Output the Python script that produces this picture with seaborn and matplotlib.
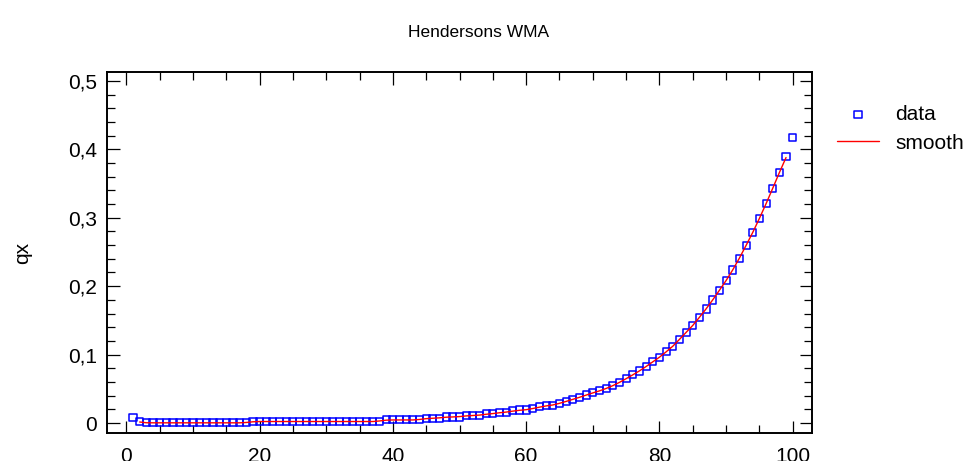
import numpy as np
import pandas as pd
import matplotlib
matplotlib.use("Agg")
import matplotlib.pyplot as plt
from matplotlib.ticker import MultipleLocator, FuncFormatter
import seaborn as sns

# observed qx by age 1..100
ages = list(range(1, 101))
qx_data = ([0.0083, 0.0025] + [0.0003] * 16 + [0.0022] * 20 + [0.0045] * 6
           + [0.0068] * 3 + [0.0088] * 3 + [0.0110] * 3 + [0.0135] * 2
           + [0.0152] * 2 + [0.0178] + [0.0190] * 2 + [0.0214, 0.0236]
           + [0.0253] * 2
           + [0.0287, 0.0312, 0.0350, 0.0375, 0.0410, 0.0448, 0.0470, 0.0502,
              0.0542, 0.0594, 0.0650, 0.0710, 0.0760, 0.0823, 0.0896, 0.0961,
              0.1042, 0.1115, 0.1224, 0.1326, 0.1423, 0.1545, 0.1667, 0.1798,
              0.1940, 0.2080, 0.2237, 0.2410, 0.2600, 0.2780, 0.2990, 0.3210,
              0.3430, 0.3660, 0.3900, 0.4170])

# Henderson smoothed values, ages 2..99
smooth_ages = list(range(2, 100))
qx_smooth = ([0.0015, 0.0004] + [0.0003] * 14 + [0.0008, 0.0018]
             + [0.0022] * 18 + [0.0030, 0.0042] + [0.0045] * 4
             + [0.0052, 0.0064, 0.0070, 0.0076, 0.0085, 0.0089, 0.0094,
                0.0104, 0.0110, 0.0116, 0.0128, 0.0138, 0.0150, 0.0160,
                0.0174, 0.0186, 0.0195, 0.0212, 0.0232, 0.0250, 0.0264,
                0.0288, 0.0316, 0.0346, 0.0376, 0.0408, 0.0440, 0.0470,
                0.0505, 0.0546, 0.0594, 0.0648, 0.0704, 0.0762, 0.0826,
                0.0894, 0.0962, 0.1040, 0.1122, 0.1222, 0.1324, 0.1426,
                0.1545, 0.1668, 0.1800, 0.1940, 0.2082, 0.2238, 0.2410,
                0.2595, 0.2785, 0.2990, 0.3205, 0.3430, 0.3660, 0.3880])

df_data = pd.DataFrame({"age": ages, "qx": qx_data})
df_smooth = pd.DataFrame({"age": smooth_ages, "qx": qx_smooth})

sns.set_theme(style="ticks")
plt.rcParams["font.family"] = ["Liberation Sans", "DejaVu Sans"]
plt.rcParams["text.color"] = "black"
plt.rcParams["axes.labelcolor"] = "black"
plt.rcParams["xtick.color"] = "black"
plt.rcParams["ytick.color"] = "black"

fig = plt.figure(figsize=(9.66, 4.61), dpi=100)
ax = fig.add_axes([0.1108, 0.0607, 0.7298, 0.7831])

sns.lineplot(data=df_smooth, x="age", y="qx", color="red", linewidth=1.0,
             ax=ax, label="smooth", zorder=3)
sns.scatterplot(data=df_data, x="age", y="qx", marker="s", s=26,
                facecolor="none", edgecolor="blue", linewidth=1.1,
                ax=ax, label="data", zorder=2)

ax.set_xlim(-2.9, 102.9)
ax.set_ylim(-0.0146, 0.513)
ax.xaxis.set_major_locator(MultipleLocator(20))
ax.xaxis.set_minor_locator(MultipleLocator(5))
ax.yaxis.set_major_locator(MultipleLocator(0.1))
ax.yaxis.set_minor_locator(MultipleLocator(0.02))
ax.yaxis.set_major_formatter(FuncFormatter(lambda v, p: f"{v:.1f}".replace(".", ",") if abs(v) > 1e-9 else "0"))
ax.tick_params(which="both", direction="in", top=True, right=True,
               width=0.9, color="black", labelcolor="black", labelsize=15)
ax.tick_params(which="major", length=9)
ax.tick_params(which="minor", length=5.5)
ax.tick_params(axis="x", pad=10)
ax.tick_params(axis="y", pad=7)
for sp in ax.spines.values():
    sp.set_linewidth(1.4)
    sp.set_color("black")

ax.set_xlabel("")
ax.set_ylabel("qx", fontsize=15, labelpad=26, color="black")
fig.text(0.495, 0.93, "Hendersons WMA", ha="center", va="center",
         fontsize=12.5, color="black")

h, l = ax.get_legend_handles_labels()
order = [l.index("data"), l.index("smooth")]
leg = ax.legend([h[i] for i in order], [l[i] for i in order], loc="upper left",
                bbox_to_anchor=(0.858, 0.79), bbox_transform=fig.transFigure,
                frameon=False, fontsize=15, handlelength=2.0, handletextpad=0.8,
                labelspacing=0.45, borderaxespad=0)
for t in leg.get_texts():
    t.set_color("black")

fig.savefig("out.png", dpi=100)
